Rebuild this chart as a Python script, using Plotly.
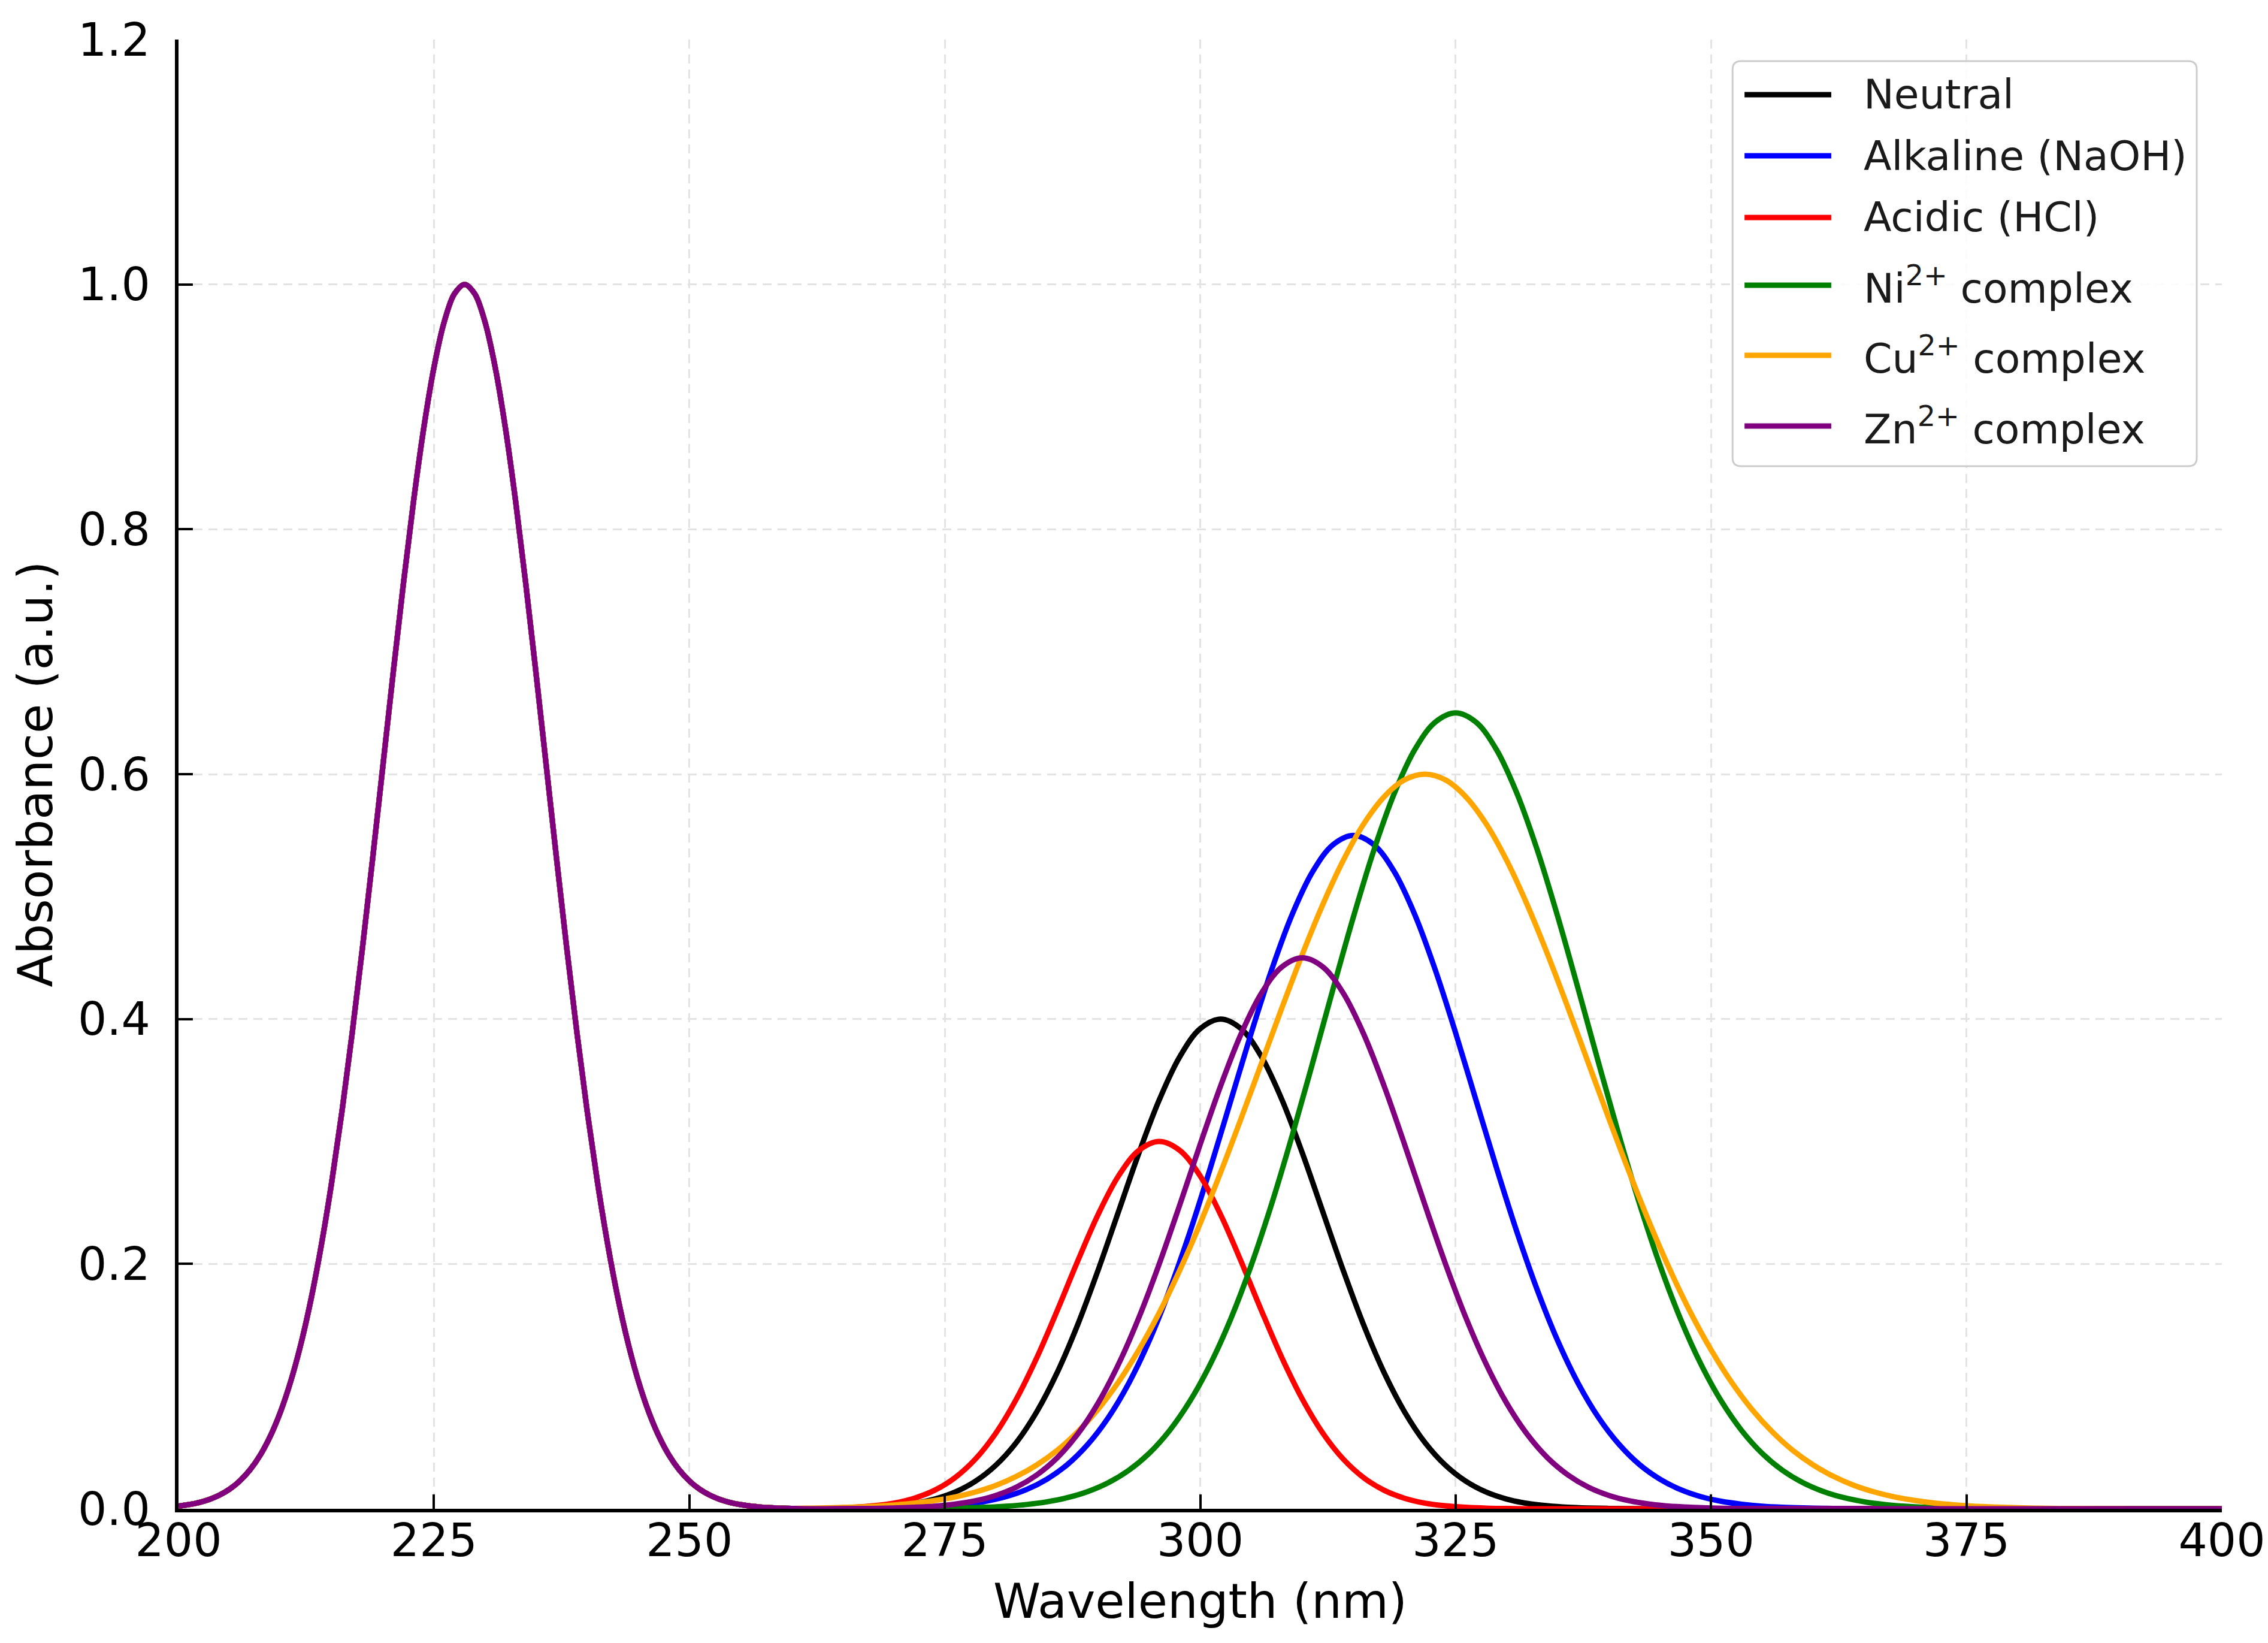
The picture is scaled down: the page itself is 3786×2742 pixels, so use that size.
import plotly.graph_objects as go

# Wavelength grids (nm): 1 nm steps across the sharp UV band, 2 nm steps beyond
uv_wavelength_nm = list(range(200, 261, 1))
vis_even_nm = list(range(262, 401, 2))            # 262, 264, ..., 400
vis_odd_nm = list(range(261, 400, 2)) + [400]     # 261, 263, ..., 399, 400

# Shared UV band (200-260 nm), identical for all samples
uv_band_200_260 = [0.0022, 0.0034, 0.0051, 0.0076, 0.0111, 0.0160, 0.0228, 0.0319, 0.0439, 0.0596,
                   0.0796, 0.1046, 0.1353, 0.1724, 0.2163, 0.2671, 0.3247, 0.3886, 0.4578, 0.5311,
                   0.6065, 0.6819, 0.7548, 0.8226, 0.8825, 0.9321, 0.9692, 0.9922, 1.0000, 0.9922,
                   0.9692, 0.9321, 0.8825, 0.8226, 0.7548, 0.6819, 0.6065, 0.5311, 0.4578, 0.3886,
                   0.3247, 0.2671, 0.2163, 0.1724, 0.1353, 0.1046, 0.0796, 0.0596, 0.0439, 0.0319,
                   0.0228, 0.0160, 0.0111, 0.0076, 0.0051, 0.0034, 0.0022, 0.0014, 0.0009, 0.0005,
                   0.0003]

# Second band read for each sample (even grid: 262-400 nm)
neutral_vis = [0.0001, 0.0003, 0.0006, 0.0012, 0.0024, 0.0044, 0.0079, 0.0136, 0.0225, 0.0356,
               0.0541, 0.0792, 0.1112, 0.1501, 0.1947, 0.2426, 0.2905, 0.3341, 0.3692, 0.3921,
               0.4000, 0.3921, 0.3692, 0.3341, 0.2905, 0.2426, 0.1947, 0.1501, 0.1112, 0.0792,
               0.0541, 0.0356, 0.0225, 0.0136, 0.0079, 0.0044, 0.0024, 0.0012, 0.0006, 0.0003,
               0.0001, 0, 0, 0, 0, 0, 0, 0, 0, 0,
               0, 0, 0, 0, 0, 0, 0, 0, 0, 0,
               0, 0, 0, 0, 0, 0, 0, 0, 0, 0]

acidic_vis = [0.0002, 0.0005, 0.0012, 0.0024, 0.0046, 0.0086, 0.0151, 0.0254, 0.0406, 0.0618,
              0.0895, 0.1233, 0.1618, 0.2021, 0.2402, 0.2718, 0.2927, 0.3000, 0.2927, 0.2718,
              0.2402, 0.2021, 0.1618, 0.1233, 0.0895, 0.0618, 0.0406, 0.0254, 0.0151, 0.0086,
              0.0046, 0.0024, 0.0012, 0.0005, 0.0002, 0, 0, 0, 0, 0,
              0, 0, 0, 0, 0, 0, 0, 0, 0, 0,
              0, 0, 0, 0, 0, 0, 0, 0, 0, 0,
              0, 0, 0, 0, 0, 0, 0, 0, 0, 0]

cu_vis = [0.0005, 0.0008, 0.0013, 0.0020, 0.0031, 0.0045, 0.0067, 0.0096, 0.0137, 0.0191,
          0.0264, 0.0358, 0.0477, 0.0628, 0.0812, 0.1035, 0.1298, 0.1602, 0.1948, 0.2331,
          0.2747, 0.3187, 0.3639, 0.4092, 0.4529, 0.4935, 0.5295, 0.5593, 0.5815, 0.5953,
          0.6000, 0.5953, 0.5815, 0.5593, 0.5295, 0.4935, 0.4529, 0.4092, 0.3639, 0.3187,
          0.2747, 0.2331, 0.1948, 0.1602, 0.1298, 0.1035, 0.0812, 0.0628, 0.0477, 0.0358,
          0.0264, 0.0191, 0.0137, 0.0096, 0.0067, 0.0045, 0.0031, 0.0020, 0.0013, 0.0008,
          0.0005, 0.0003, 0.0002, 0.0001, 0.0001, 0, 0, 0, 0, 0]

zn_vis = [0.0000, 0.0001, 0.0002, 0.0003, 0.0006, 0.0012, 0.0021, 0.0038, 0.0065, 0.0109,
          0.0176, 0.0276, 0.0416, 0.0609, 0.0862, 0.1180, 0.1562, 0.2002, 0.2482, 0.2977,
          0.3454, 0.3878, 0.4212, 0.4426, 0.4500, 0.4426, 0.4212, 0.3878, 0.3454, 0.2977,
          0.2482, 0.2002, 0.1562, 0.1180, 0.0862, 0.0609, 0.0416, 0.0276, 0.0176, 0.0109,
          0.0065, 0.0038, 0.0021, 0.0012, 0.0006, 0.0003, 0.0002, 0.0001, 0, 0,
          0, 0, 0, 0, 0, 0, 0, 0, 0, 0,
          0, 0, 0, 0, 0, 0, 0, 0, 0, 0]

# Second band read for each sample (odd grid: 261-399 nm, then 400 nm)
alkaline_vis = [0.0000, 0.0000, 0.0001, 0.0002, 0.0004, 0.0007, 0.0012, 0.0021, 0.0037, 0.0061,
                0.0099, 0.0157, 0.0242, 0.0361, 0.0526, 0.0744, 0.1024, 0.1371, 0.1786, 0.2261,
                0.2785, 0.3336, 0.3887, 0.4404, 0.4854, 0.5203, 0.5424, 0.5500, 0.5424, 0.5203,
                0.4854, 0.4404, 0.3887, 0.3336, 0.2785, 0.2261, 0.1786, 0.1371, 0.1024, 0.0744,
                0.0526, 0.0361, 0.0242, 0.0157, 0.0099, 0.0061, 0.0037, 0.0021, 0.0012, 0.0007,
                0.0004, 0.0002, 0.0001, 0, 0, 0, 0, 0, 0, 0,
                0, 0, 0, 0, 0, 0, 0, 0, 0, 0,
                0]

ni_vis = [0, 0, 0, 0.0000, 0.0001, 0.0001, 0.0002, 0.0004, 0.0007, 0.0012,
          0.0021, 0.0035, 0.0057, 0.0091, 0.0141, 0.0213, 0.0314, 0.0453, 0.0639, 0.0880,
          0.1183, 0.1553, 0.1990, 0.2492, 0.3048, 0.3640, 0.4245, 0.4835, 0.5379, 0.5843,
          0.6200, 0.6424, 0.6500, 0.6424, 0.6200, 0.5843, 0.5379, 0.4835, 0.4245, 0.3640,
          0.3048, 0.2492, 0.1990, 0.1553, 0.1183, 0.0880, 0.0639, 0.0453, 0.0314, 0.0213,
          0.0141, 0.0091, 0.0057, 0.0035, 0.0021, 0.0012, 0.0007, 0.0004, 0.0002, 0.0001,
          0.0001, 0, 0, 0, 0, 0, 0, 0, 0, 0,
          0]

series_names = ["Neutral", "Alkaline (NaOH)", "Acidic (HCl)",
                "Ni<sup>2+</sup> complex", "Cu<sup>2+</sup> complex", "Zn<sup>2+</sup> complex"]
series_vis_x = [vis_even_nm, vis_odd_nm, vis_even_nm, vis_odd_nm, vis_even_nm, vis_even_nm]
series_vis_y = [neutral_vis, alkaline_vis, acidic_vis, ni_vis, cu_vis, zn_vis]
series_colors = ["#000000", "#0000ff", "#ff0000", "#008000", "#ffa500", "#800080"]

x_ticks = [200, 225, 250, 275, 300, 325, 350, 375, 400]
y_ticks = [0.0, 0.2, 0.4, 0.6, 0.8, 1.0, 1.2]

FONT = "DejaVu Sans"

# ---- figure geometry (pixels) ----
W, H = 3786, 2742
ML, MR, MT, MB = 290, 80, 58, 232
PW, PH = W - ML - MR, H - MT - MB


def px_x(px):
    return (px - ML) / PW


def px_y(py):
    return 1 - (py - MT) / PH


fig = go.Figure()
for name, vx, vy, color in zip(series_names, series_vis_x, series_vis_y, series_colors):
    fig.add_trace(go.Scatter(
        x=uv_wavelength_nm + vx,
        y=uv_band_200_260 + vy,
        mode="lines",
        name=name,
        showlegend=False,
        line=dict(color=color, width=9, shape="spline", smoothing=1.0),
    ))

axis_common = dict(
    showline=True, linecolor="#000000", linewidth=6, mirror=False,
    ticks="inside", ticklen=24, tickwidth=4, tickcolor="#000000",
    showgrid=True, gridcolor="#e3e3e3", gridwidth=3, griddash="15px,10px",
    zeroline=False,
    tickfont=dict(family=FONT, size=76, color="#000000"),
)

fig.update_xaxes(
    range=[200, 400], tickvals=x_ticks, ticktext=[str(v) for v in x_ticks],
    title=dict(text="Wavelength (nm)", font=dict(family=FONT, size=80, color="#000000"), standoff=32),
    ticklabelstandoff=-18,
    **axis_common,
)
fig.update_yaxes(
    range=[0, 1.2], tickvals=y_ticks, ticktext=[f"{v:.1f}" for v in y_ticks],
    title=dict(text="Absorbance (a.u.)", font=dict(family=FONT, size=80, color="#000000"), standoff=18),
    ticklabelstandoff=26,
    **axis_common,
)

# ---- legend (boxed key with matplotlib-style long line samples) ----
LEG_LEFT, LEG_RIGHT, LEG_TOP, LEG_BOTTOM = 2888, 3664, 94, 770
LEG_RADIUS = 14
LINE_X0, LINE_X1, TEXT_X = 2908, 3053, 3105
ROW_Y = [150, 252, 355, 468, 585, 703]

rx, ry = LEG_RADIUS / PW, LEG_RADIUS / PH
x0, x1, y0, y1 = px_x(LEG_LEFT), px_x(LEG_RIGHT), px_y(LEG_BOTTOM), px_y(LEG_TOP)
box_path = (f"M {x0 + rx},{y1} L {x1 - rx},{y1} Q {x1},{y1} {x1},{y1 - ry} "
            f"L {x1},{y0 + ry} Q {x1},{y0} {x1 - rx},{y0} "
            f"L {x0 + rx},{y0} Q {x0},{y0} {x0},{y0 + ry} "
            f"L {x0},{y1 - ry} Q {x0},{y1} {x0 + rx},{y1} Z")

shapes = [dict(type="path", xref="paper", yref="paper", path=box_path,
               fillcolor="rgba(255,255,255,0.85)", line=dict(color="#cccccc", width=3), layer="above")]
annotations = []
for name, color, row_px in zip(series_names, series_colors, ROW_Y):
    shapes.append(dict(type="line", xref="paper", yref="paper",
                       x0=px_x(LINE_X0), x1=px_x(LINE_X1), y0=px_y(row_px), y1=px_y(row_px),
                       line=dict(color=color, width=9), layer="above"))
    annotations.append(dict(xref="paper", yref="paper", x=px_x(TEXT_X), y=px_y(row_px),
                            xanchor="left", yanchor="middle", text=name, showarrow=False,
                            font=dict(family=FONT, size=68, color="#1a1a1a")))

fig.update_layout(
    width=W, height=H, autosize=False,
    margin=dict(l=ML, r=MR, t=MT, b=MB, pad=0),
    paper_bgcolor="#ffffff", plot_bgcolor="#ffffff",
    font=dict(family=FONT, color="#000000"),
    showlegend=False,
    shapes=shapes,
    annotations=annotations,
)

fig.write_html("out.html")
